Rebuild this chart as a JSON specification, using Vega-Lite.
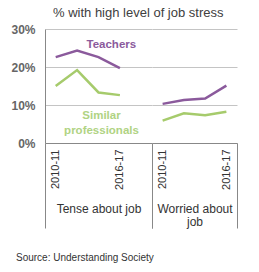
{
  "$schema": "https://vega.github.io/schema/vega-lite/v6.json",
  "background": "white",
  "padding": {"left": 10, "top": 7, "right": 5, "bottom": 5},
  "config": {"view": {"stroke": null}, "font": "Liberation Sans", "axisY": {"grid": true, "gridColor": "#c4c4c4", "gridOpacity": 1, "gridWidth": 1}},
  "title": {"text": "% with high level of job stress", "fontSize": 13, "fontWeight": "normal", "color": "#404040", "anchor": "middle", "dx": 14, "offset": 3},
  "datasets": {
    "stress": [
      {"group": "Tense about job", "wave": "2010-11", "series": "Teachers", "value": 0.226},
      {"group": "Tense about job", "wave": "2012-13", "series": "Teachers", "value": 0.243},
      {"group": "Tense about job", "wave": "2014-15", "series": "Teachers", "value": 0.226},
      {"group": "Tense about job", "wave": "2016-17", "series": "Teachers", "value": 0.197},
      {"group": "Tense about job", "wave": "2010-11", "series": "Similar professionals", "value": 0.150},
      {"group": "Tense about job", "wave": "2012-13", "series": "Similar professionals", "value": 0.192},
      {"group": "Tense about job", "wave": "2014-15", "series": "Similar professionals", "value": 0.133},
      {"group": "Tense about job", "wave": "2016-17", "series": "Similar professionals", "value": 0.126},
      {"group": "Worried about job", "wave": "2010-11", "series": "Teachers", "value": 0.103},
      {"group": "Worried about job", "wave": "2012-13", "series": "Teachers", "value": 0.113},
      {"group": "Worried about job", "wave": "2014-15", "series": "Teachers", "value": 0.117},
      {"group": "Worried about job", "wave": "2016-17", "series": "Teachers", "value": 0.151},
      {"group": "Worried about job", "wave": "2010-11", "series": "Similar professionals", "value": 0.059},
      {"group": "Worried about job", "wave": "2012-13", "series": "Similar professionals", "value": 0.078},
      {"group": "Worried about job", "wave": "2014-15", "series": "Similar professionals", "value": 0.073},
      {"group": "Worried about job", "wave": "2016-17", "series": "Similar professionals", "value": 0.082}
    ]
  },
  "spacing": 0,
  "bounds": "flush",
  "resolve": {"scale": {"x": "independent"}},
  "hconcat": [
    {
      "width": 107,
      "height": 114,
      "title": {"text": "Source: Understanding Society", "orient": "bottom", "anchor": "start", "frame": "group", "dx": -29, "fontSize": 10, "fontWeight": "normal", "color": "#333333", "offset": 24},
      "layer": [
        {
          "data": {"name": "stress"},
          "transform": [{"filter": "datum.group === 'Tense about job'"}],
          "mark": {"type": "line", "strokeWidth": 2.5},
          "encoding": {
            "x": {
              "field": "wave", "type": "ordinal",
              "scale": {"type": "band", "domain": ["2010-11", "2012-13", "2014-15", "2016-17", " "], "paddingInner": 0, "paddingOuter": 0},
              "axis": {
                "title": "Tense about job",
                "labelExpr": "datum.value === '2010-11' || datum.value === '2016-17' ? datum.value : ''",
                "labelAngle": -90, "labelFontSize": 11, "labelColor": "#333333", "labelPadding": -79,
                "tickBand": "extent", "tickSize": 85, "tickColor": "#888888",
                "tickOpacity": {"condition": {"test": "datum.extra || datum.value === ' '", "value": 1}, "value": 0},
                "domainColor": "#888888", "grid": false,
                "titleFontSize": 12, "titleFontWeight": "normal", "titleColor": "#333333", "titleY": 60, "titleBaseline": "top"
              }
            },
            "y": {
              "field": "value", "type": "quantitative",
              "scale": {"domain": [0, 0.3], "nice": false},
              "axis": {"title": null, "format": "%", "values": [0, 0.1, 0.2, 0.3], "grid": true, "labelOverlap": false, "ticks": false, "domainColor": "#888888", "gridColor": "#c4c4c4", "labelFontSize": 12, "labelFontWeight": "bold", "labelColor": "#666666", "labelPadding": 10}
            },
            "color": {"field": "series", "type": "nominal", "scale": {"domain": ["Teachers", "Similar professionals"], "range": ["#8b5a9c", "#a6cb6c"]}, "legend": null}
          }
        },
        {
          "data": {"values": [{"label": "Teachers"}]},
          "mark": {"type": "text", "align": "left", "baseline": "middle", "dx": -12, "fontSize": 11.5, "fontWeight": "bold", "color": "#8b5a9c"},
          "encoding": {
            "x": {"datum": "2014-15", "type": "ordinal"},
            "y": {"datum": 0.257, "type": "quantitative", "axis": {"title": null, "format": "%", "values": [0, 0.1, 0.2, 0.3], "grid": true, "labelOverlap": false, "ticks": false, "domainColor": "#888888", "gridColor": "#c4c4c4", "labelFontSize": 12, "labelFontWeight": "bold", "labelColor": "#666666", "labelPadding": 10}},
            "text": {"field": "label"}
          }
        },
        {
          "data": {"values": [{"label": ["Similar", "professionals"]}]},
          "mark": {"type": "text", "align": "center", "baseline": "middle", "dx": 3, "fontSize": 11.5, "fontWeight": "bold", "lineHeight": 15, "color": "#b0d383"},
          "encoding": {
            "x": {"datum": "2014-15", "type": "ordinal"},
            "y": {"datum": 0.071, "type": "quantitative", "axis": {"title": null, "format": "%", "values": [0, 0.1, 0.2, 0.3], "grid": true, "labelOverlap": false, "ticks": false, "domainColor": "#888888", "gridColor": "#c4c4c4", "labelFontSize": 12, "labelFontWeight": "bold", "labelColor": "#666666", "labelPadding": 10}},
            "text": {"field": "label"}
          }
        }
      ]
    },
    {
      "width": 85,
      "height": 114,
      "data": {"name": "stress"},
      "transform": [{"filter": "datum.group === 'Worried about job'"}],
      "mark": {"type": "line", "strokeWidth": 2.5},
      "encoding": {
        "x": {
          "field": "wave", "type": "ordinal",
          "scale": {"type": "band", "domain": ["2010-11", "2012-13", "2014-15", "2016-17"], "paddingInner": 0, "paddingOuter": 0},
          "axis": {
            "title": ["Worried about", "job"],
            "labelExpr": "datum.value === '2010-11' || datum.value === '2016-17' ? datum.value : ''",
            "labelAngle": -90, "labelFontSize": 11, "labelColor": "#333333", "labelPadding": -79,
            "tickBand": "extent", "tickSize": 85, "tickColor": "#888888",
            "tickOpacity": {"condition": {"test": "datum.extra || datum.value === '2016-17'", "value": 1}, "value": 0},
            "domainColor": "#888888", "grid": false,
            "titleFontSize": 12, "titleFontWeight": "normal", "titleColor": "#333333", "titleY": 60, "titleBaseline": "top", "titleLineHeight": 13
          }
        },
        "y": {
          "field": "value", "type": "quantitative",
          "scale": {"domain": [0, 0.3], "nice": false},
          "axis": {"title": null, "labels": false, "ticks": false, "domain": false, "grid": true, "values": [0, 0.1, 0.2, 0.3], "gridColor": "#c4c4c4", "labelPadding": 0, "minExtent": 0, "maxExtent": 0, "offset": 0}
        },
        "color": {"field": "series", "type": "nominal", "scale": {"domain": ["Teachers", "Similar professionals"], "range": ["#8b5a9c", "#a6cb6c"]}, "legend": null}
      }
    }
  ]
}
